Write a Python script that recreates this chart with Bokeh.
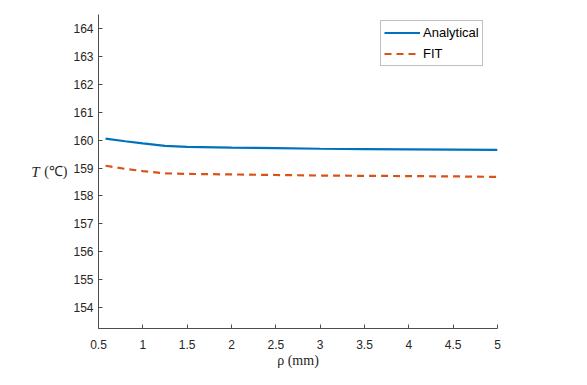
from bokeh.plotting import figure
from bokeh.models import Range1d, Legend, LegendItem, FixedTicker, LinearAxis
from bokeh.embed import file_html
from bokeh.resources import INLINE

rho = [0.58, 0.8, 1.0, 1.25, 1.5, 2.0, 2.5, 3.0, 3.5, 4.0, 4.5, 5.0]
analytical = [160.05, 159.96, 159.88, 159.79, 159.76, 159.73, 159.71, 159.69, 159.68, 159.67, 159.66, 159.65]
fit = [159.08, 158.97, 158.89, 158.81, 158.79, 158.77, 158.75, 158.73, 158.72, 158.71, 158.70, 158.68]
x_ticks = [0.5, 1, 1.5, 2, 2.5, 3, 3.5, 4, 4.5, 5]
y_ticks = [154, 155, 156, 157, 158, 159, 160, 161, 162, 163, 164]

p = figure(width=571, height=369, output_backend="svg", toolbar_location=None,
           x_range=Range1d(0.5, 5), y_range=Range1d(153.25, 164.5),
           min_border_left=98, min_border_right=74, min_border_top=14, min_border_bottom=41)
p.frame_width = 399
p.frame_height = 314
p.outline_line_color = None
p.xgrid.visible = False
p.ygrid.visible = False

axcol = "#4d4d4d"
for ax in (p.xaxis, p.yaxis):
    ax.axis_line_color = axcol
    ax.major_tick_line_color = axcol
    ax.minor_tick_line_color = None
    ax.major_tick_in = 4
    ax.major_tick_out = 0
    ax.major_label_text_font = "Liberation Sans"
    ax.major_label_text_font_size = "12px"
    ax.major_label_text_color = "#262626"
    ax.axis_label_text_font = "Liberation Serif"
    ax.axis_label_text_font_style = "normal"
    ax.axis_label_text_font_size = "14px"
    ax.axis_label_text_color = "#262626"
p.xaxis.ticker = FixedTicker(ticks=x_ticks)
p.yaxis.ticker = FixedTicker(ticks=y_ticks)
p.xaxis.major_label_standoff = 11
p.yaxis.major_label_standoff = 5
p.xaxis.axis_label = "\u03c1 (mm)"
p.xaxis.axis_label_standoff = 1
p.yaxis.axis_label = "(\u2103)"
p.yaxis.axis_label_orientation = "horizontal"
p.yaxis.axis_label_standoff = 3

# outer left axis carrying only the italic "T"
tax = LinearAxis(ticker=FixedTicker(ticks=[]), axis_line_color=None,
                 major_tick_line_color=None, minor_tick_line_color=None,
                 major_label_text_font_size="0px", major_label_standoff=0,
                 axis_label="T", axis_label_orientation="horizontal",
                 axis_label_standoff=2, axis_label_text_font="Liberation Serif",
                 axis_label_text_font_style="italic", axis_label_text_font_size="15px",
                 axis_label_text_color="#262626")
p.add_layout(tax, "left")

r1 = p.line(rho, analytical, line_color="#0072BD", line_width=2.2)
r2 = p.line(rho, fit, line_color="#D95319", line_width=2.2, line_dash="7 5")

legend = Legend(items=[LegendItem(label="Analytical", renderers=[r1]),
                       LegendItem(label="FIT", renderers=[r2])],
                location=(282, 262), padding=3, spacing=4, margin=0,
                glyph_width=36, glyph_height=17, label_height=17, label_standoff=3,
                label_text_font="Liberation Sans", label_text_font_size="13px",
                label_text_color="#000000",
                border_line_color="#808080", border_line_width=1,
                background_fill_color="white", background_fill_alpha=1)
p.add_layout(legend)

open("out.html", "w").write(file_html(p, INLINE))
